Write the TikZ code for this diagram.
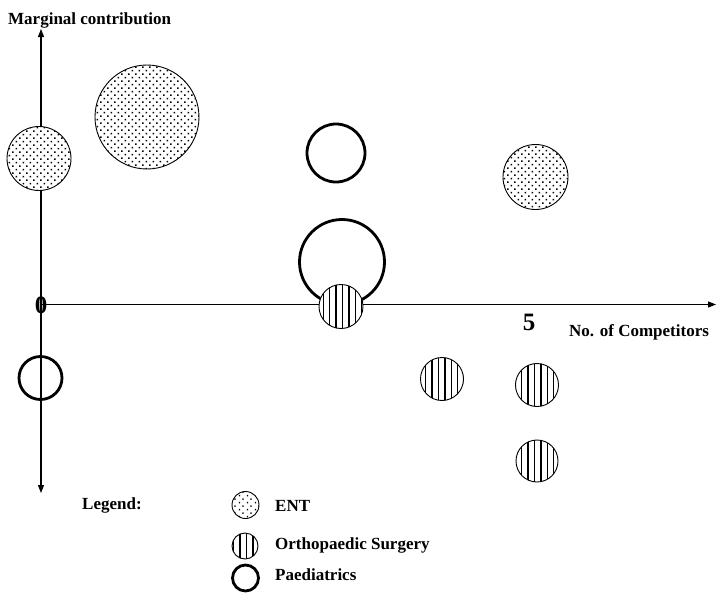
\documentclass[tikz,border=0pt]{standalone}
\usepackage{fontspec}
\setmainfont{Liberation Serif}
\usetikzlibrary{arrows.meta,patterns.meta}
\tikzdeclarepattern{
  name=entdots,
  type=uncolored,
  bounding box={(0pt,0pt) and (7.4pt,7.4pt)},
  tile size={(7.4pt,7.4pt)},
  code={
    \fill (1.85pt,1.85pt) rectangle +(1.5pt,1.5pt);
    \fill (5.55pt,5.55pt) rectangle +(1.5pt,1.5pt);
  }
}
\tikzdeclarepattern{
  name=vstripes,
  type=uncolored,
  bounding box={(0pt,-1pt) and (6.4pt,7.4pt)},
  tile size={(6.4pt,6.4pt)},
  code={
    \fill (2.5pt,-1pt) rectangle (3.9pt,7.4pt);
  }
}
\begin{document}
\begin{tikzpicture}[x=1pt,y=-1pt,
  ent/.style={circle, draw=black, line width=0.9pt, preaction={fill=white}, pattern=entdots, inner sep=0pt, minimum size=#1},
  ortho/.style={circle, draw=black, line width=0.9pt, preaction={fill=white}, pattern=vstripes, inner sep=0pt, minimum size=#1},
  paed/.style={circle, draw=black, line width=2.8pt, inner sep=0pt, minimum size=#1},
  lbl/.style={font=\bfseries\fontsize{17}{19}\selectfont, inner sep=0pt},
  numlbl/.style={font=\bfseries\fontsize{25}{27}\selectfont, inner sep=0pt},
  axisline/.style={line width=1.1pt, -{Triangle[length=8pt,width=6pt]}}
]
\fill[white] (0,0) rectangle (724,600);
\useasboundingbox (0,0) rectangle (724,600);

% origin label
\node[numlbl, anchor=base] (zero) at (41,313) {0};

% axes
\coordinate (O) at (41,304.5);
\coordinate (ytop) at (41,29);
\coordinate (ybot) at (41,493);
\coordinate (xend) at (716,304.5);
\draw[axisline] (O) -- (ytop);
\draw[axisline] (O) -- (ybot);
\draw[axisline] (O) -- (xend);

% axis labels
\node[lbl, anchor=base west] (ylabel) at (8,24) {Marginal contribution};
\node[lbl, anchor=base west] (xlabel) at (569,336) {No. of Competitors};
\node[numlbl, anchor=base] (five) at (529,330) {5};

% ENT
\node[ent=64pt] (e1) at (39,158.5) {};
\node[ent=104pt] (e2) at (147,117) {};
\node[ent=65pt] (e3) at (535.5,177) {};

% Paediatrics
\node[paed=58pt] (p1) at (336,153) {};
\node[paed=85pt] (p2) at (342,262) {};
\node[paed=43pt] (p3) at (40.5,378) {};

% Orthopaedic Surgery
\node[ortho=44pt] (o1) at (341,306.5) {};
\node[ortho=43pt] (o2) at (442,379) {};
\node[ortho=43pt] (o3) at (537,385) {};
\node[ortho=42pt] (o4) at (537,461) {};

% Legend
\node[lbl, anchor=base west] (legend) at (82,509) {Legend:};
\node[ent=27pt] (le) at (245.5,505) {};
\node[lbl, anchor=base west] (lent) at (275,511) {ENT};
\node[ortho=26pt] (lo) at (245,546) {};
\node[lbl, anchor=base west] (lortho) at (275,549) {Orthopaedic Surgery};
\node[paed=26pt] (lp) at (245.5,578) {};
\node[lbl, anchor=base west] (lpaed) at (275,580) {Paediatrics};
\end{tikzpicture}
\end{document}
